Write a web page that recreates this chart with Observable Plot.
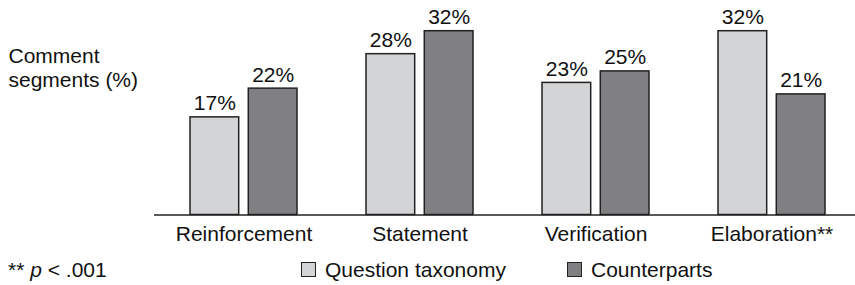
<!DOCTYPE html>
<html>
<head>
<meta charset="utf-8">
<script src="https://cdn.jsdelivr.net/npm/d3@7"></script>
<script src="https://cdn.jsdelivr.net/npm/@observablehq/plot@0.6"></script>
<style>
  html, body { margin: 0; padding: 0; background: #fff; }
  body { font-family: "Liberation Sans", Arial, Helvetica, sans-serif; color: #111; }
  #wrap { position: relative; width: 855px; height: 285px; overflow: hidden; }
  #chart svg { display: block; }
  .legend { position: absolute; top: 259px; font-size: 21px; line-height: 21px; white-space: nowrap; }
  .sw { position: absolute; top: 3px; width: 13px; height: 13px; border: 1.5px solid #222; }
</style>
</head>
<body>
<div id="wrap">
  <div id="chart"></div>
  <div class="legend" style="left:8px">** <i>p</i> &lt; .001</div>
  <div class="legend" id="leg0" style="left:301px"><span class="sw"></span><span style="margin-left:24px">Question taxonomy</span></div>
  <div class="legend" id="leg1" style="left:567px"><span class="sw"></span><span style="margin-left:24px">Counterparts</span></div>
</div>
<script>
const categories = ["Reinforcement", "Statement", "Verification", "Elaboration**"];
const seriesNames = ["Question taxonomy", "Counterparts"];
const questionTaxonomy = [17, 28, 23, 32];
const counterparts = [22, 32, 25, 21];
const yLabel = "Comment\nsegments (%)";

const colors = ["#d3d4d6", "#808083"];

const rows = categories.flatMap((c, i) => [
  {category: c, series: seriesNames[0], value: questionTaxonomy[i]},
  {category: c, series: seriesNames[1], value: counterparts[i]}
]);
const qRows = rows.filter(d => d.series === seriesNames[0]);
const cRows = rows.filter(d => d.series === seriesNames[1]);

const barGapInset = 58.3;
const labelDx = 29.2;

const chart = Plot.plot({
  width: 855,
  height: 250,
  marginLeft: 154,
  marginRight: 0,
  marginTop: 30.7,
  marginBottom: 35.5,
  style: {fontSize: "21px", fontFamily: "'Liberation Sans', Arial, Helvetica, sans-serif", color: "#111", background: "#fff"},
  x: {domain: categories, range: [188.7, 826.7], paddingInner: 0.393, paddingOuter: 0, tickSize: 0, tickPadding: 11.5, label: null},
  y: {domain: [0, 32], axis: null},
  color: {domain: seriesNames, range: colors},
  marks: [
    Plot.barY(qRows, {x: "category", y: "value", fill: "series", stroke: "#222", strokeWidth: 1.5, insetRight: barGapInset}),
    Plot.barY(cRows, {x: "category", y: "value", fill: "series", stroke: "#222", strokeWidth: 1.5, insetLeft: barGapInset}),
    Plot.text(qRows, {x: "category", y: "value", text: d => d.value + "%", dx: -labelDx, dy: -7, lineAnchor: "bottom", fill: "#111"}),
    Plot.text(cRows, {x: "category", y: "value", text: d => d.value + "%", dx: labelDx, dy: -7, lineAnchor: "bottom", fill: "#111"}),
    Plot.ruleY([0], {stroke: "#222", strokeWidth: 1.5}),
    Plot.text([yLabel], {frameAnchor: "top-left", dx: -146, dy: 15, textAnchor: "start", lineAnchor: "top", lineHeight: 1.13, fill: "#111"})
  ]
});
document.getElementById("chart").appendChild(chart);
document.querySelector("#leg0 .sw").style.background = colors[0];
document.querySelector("#leg1 .sw").style.background = colors[1];
</script>
</body>
</html>
